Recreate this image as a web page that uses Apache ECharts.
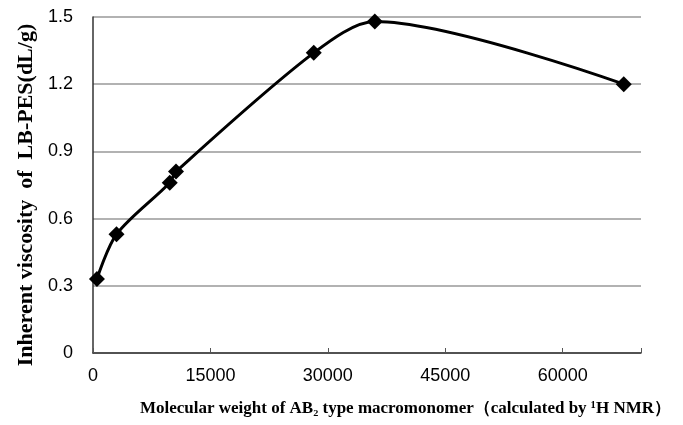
<!DOCTYPE html>
<html><head><meta charset="utf-8">
<script src="https://cdn.jsdelivr.net/npm/echarts@6/dist/echarts.min.js"></script>
<style>html,body{margin:0;padding:0;background:#fff}#c{width:683px;height:425px}</style>
</head><body><div id="c"></div>
<script>
var molecularWeight = [500, 3000, 9800, 10600, 28200, 36000, 67800];
var viscosity = [0.33, 0.53, 0.76, 0.81, 1.34, 1.48, 1.20];
var xTicks = [0, 15000, 30000, 45000, 60000];
var yTicks = [0, 0.3, 0.6, 0.9, 1.2, 1.5];
var yName = 'Inherent viscosity  of  LB-PES(dL/g)';
var xName = 'Molecular weight of AB₂ type macromonomer（calculated by ¹H NMR）';

var chart = echarts.init(document.getElementById('c'));
chart.setOption({
  animation: false,
  grid: {left: 93, right: 42, top: 17, bottom: 72},
  xAxis: {
    type: 'value', min: 0, max: 70000, interval: 15000,
    axisLine: {lineStyle: {color: '#333', width: 1.5}},
    axisTick: {show: true, inside: true, length: 5, lineStyle: {color: '#555'}},
    splitLine: {show: false},
    axisLabel: {color: '#000', fontSize: 18, fontFamily: 'Liberation Sans', margin: 14,
      formatter: function(v){ return xTicks.indexOf(v) >= 0 ? String(v) : ''; }}
  },
  yAxis: {
    type: 'value', min: 0, max: 1.5, interval: 0.3,
    name: yName, nameLocation: 'middle', nameGap: 56,
    nameTextStyle: {color: '#000', fontSize: 22, fontWeight: 'bold', fontFamily: 'Liberation Serif', padding: [0, 0, 0, -20]},
    axisLine: {show: true, lineStyle: {color: '#333', width: 1.5}},
    axisTick: {show: false},
    splitLine: {lineStyle: {color: '#999', width: 1.5}},
    axisLabel: {color: '#000', fontSize: 18, fontFamily: 'Liberation Sans', margin: 20,
      formatter: function(v){ var s = yTicks.find(function(t){return Math.abs(t-v)<1e-9;}); return s === undefined ? '' : (s === 0 ? '0' : s.toFixed(1)); }}
  },
  graphic: [{
    type: 'text', right: 12, top: 400,
    style: {text: xName, fill: '#000', font: 'bold 17px "Liberation Serif"'}
  }],
  series: [{
    type: 'line', smooth: 0.3,
    data: molecularWeight.map(function(x, i){ return [x, viscosity[i]]; }),
    symbol: 'diamond', symbolSize: 16,
    lineStyle: {color: '#000', width: 3},
    itemStyle: {color: '#000'}
  }]
});
</script></body></html>
